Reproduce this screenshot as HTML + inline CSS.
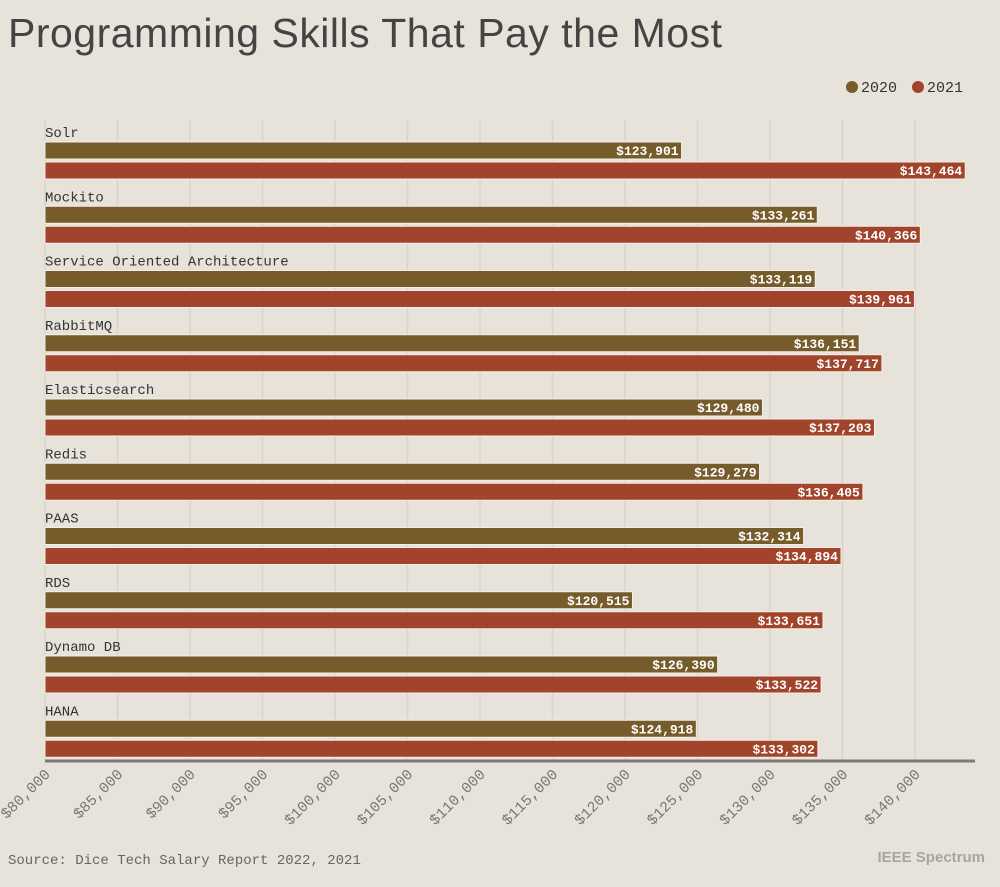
<!DOCTYPE html>
<html><head><meta charset="utf-8"><style>
body{margin:0;background:#e8e3da;width:1000px;height:882px;overflow:hidden;font-family:"Liberation Sans",sans-serif}
</style></head><body>
<svg width="1000" height="882" viewBox="0 0 1000 882">
<text x="8" y="47" font-size="41" textLength="714" fill="#444" font-family="Liberation Sans, sans-serif">Programming Skills That Pay the Most</text>
<g font-family="Liberation Mono, monospace" font-size="15" fill="#333">
<circle cx="852" cy="87" r="6" fill="#765b2b"/>
<text x="861" y="92">2020</text>
<circle cx="918" cy="87" r="6" fill="#a2432b"/>
<text x="927" y="92">2021</text>
</g>
<g id="grid"></g><g id="bars"></g><g id="ticks"></g>
<line x1="45" y1="761" x2="975" y2="761" stroke="#7d7a78" stroke-width="3"/>
<text x="8" y="864" font-size="14" fill="#666" font-family="Liberation Mono, monospace">Source: Dice Tech Salary Report 2022, 2021</text>
<text x="985" y="862" text-anchor="end" font-size="15" font-weight="bold" fill="#a8a5a0">IEEE Spectrum</text>
</svg>
<script>
const categories=["Solr","Mockito","Service Oriented Architecture","RabbitMQ","Elasticsearch","Redis","PAAS","RDS","Dynamo DB","HANA"];
const values2020=[123901,133261,133119,136151,129480,129279,132314,120515,126390,124918];
const values2021=[143464,140366,139961,137717,137203,136405,134894,133651,133522,133302];
const tickValues=[80000,85000,90000,95000,100000,105000,110000,115000,120000,125000,130000,135000,140000];
const NS="http://www.w3.org/2000/svg";
const x=v=>45+(v-80000)/5000*72.5;
const gy=i=>142+i*64.25;
const fmt=v=>"$"+v.toLocaleString("en-US");
function mk(t,a,p){const e=document.createElementNS(NS,t);for(const k in a)e.setAttribute(k,a[k]);p.appendChild(e);return e;}
const grid=document.getElementById("grid"),bars=document.getElementById("bars"),ticks=document.getElementById("ticks");
tickValues.forEach(v=>{
 const l=mk("line",{x1:x(v),x2:x(v),y1:120,y2:760,stroke:"#d8d3cb","stroke-width":1.5},grid);
 
 
 const t=mk("text",{x:x(v)+6,y:775,"text-anchor":"end","font-size":15,fill:"#777","font-family":"Liberation Mono, monospace",transform:`rotate(-45 ${x(v)+6} 775)`},ticks);
 t.textContent=fmt(v);
 
 
});
categories.forEach((c,i)=>{
 const y=gy(i);
 const lb=mk("text",{x:45,y:y-5,"font-size":14,fill:"#333","font-family":"Liberation Mono, monospace"},bars);
 lb.textContent=c;
 
 
 [[values2020[i],"#765b2b",0],[values2021[i],"#a2432b",20]].forEach(([v,col,off])=>{
  const r=mk("rect",{x:45,y:y+off,width:x(v)-45,height:17,fill:col,stroke:"#f3efe8","stroke-width":1},bars);
  
  
  const vt=mk("text",{x:x(v)-3,y:y+off+13,"text-anchor":"end","font-size":13,"font-weight":"bold",fill:"#fff","font-family":"Liberation Mono, monospace"},bars);
  vt.textContent=fmt(v);
  
  
 });
});
</script>
</body></html>
